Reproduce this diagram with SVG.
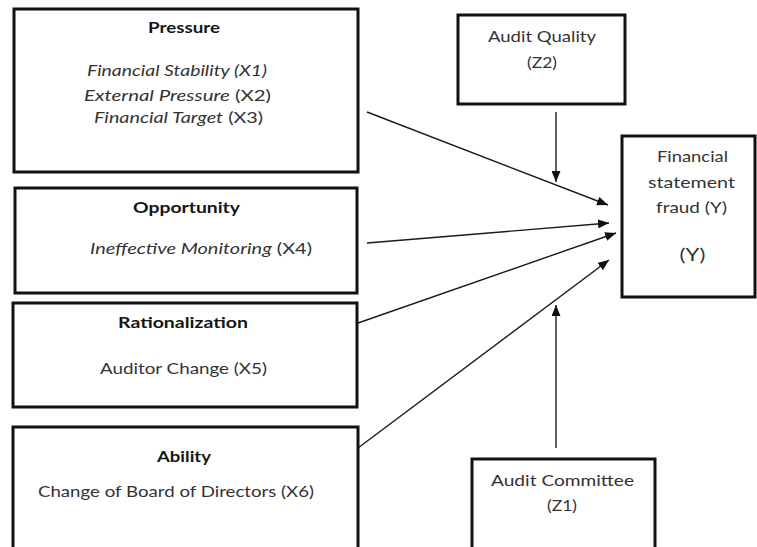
<svg xmlns="http://www.w3.org/2000/svg" width="757" height="547" viewBox="0 0 757 547">
  <style>
    .box { fill: #ffffff; stroke: #111111; stroke-width: 3; }
    .title { font-family: Lato, "Open Sans", "Liberation Sans", sans-serif; font-size: 16px; font-weight: bold; fill: #151515; text-anchor: middle; }
    .body { font-family: Lato, "Open Sans", "Liberation Sans", sans-serif; font-size: 16px; fill: #333333; text-anchor: middle; }
    .it { font-style: italic; }
    .link { fill: none; stroke: #1a1a1a; stroke-width: 1.4; marker-end: url(#head); }
  </style>
  <defs>
    <marker id="head" markerUnits="userSpaceOnUse" markerWidth="11" markerHeight="9" refX="11" refY="4.5" orient="auto">
      <path d="M0,0 L11,4.5 L0,9 z" fill="#111111"/>
    </marker>
  </defs>

  <rect width="757" height="547" fill="#ffffff"/>

  <!-- independent variable blocks -->
  <g id="pressure">
    <rect class="box" x="14" y="9" width="344" height="163"/>
    <text class="title" x="184" y="33" textLength="72" lengthAdjust="spacingAndGlyphs">Pressure</text>
    <text class="body it" x="177" y="76" textLength="180" lengthAdjust="spacingAndGlyphs">Financial Stability (X1)</text>
    <text class="body" x="177.5" y="101" textLength="187" lengthAdjust="spacingAndGlyphs"><tspan class="it">External Pressure</tspan>  (X2)</text>
    <text class="body" x="178.5" y="123" textLength="169" lengthAdjust="spacingAndGlyphs"><tspan class="it">Financial Target</tspan> (X3)</text>
  </g>

  <g id="opportunity">
    <rect class="box" x="15" y="188" width="342" height="105"/>
    <text class="title" x="186.5" y="213" textLength="107" lengthAdjust="spacingAndGlyphs">Opportunity</text>
    <text class="body" x="201" y="254" textLength="222" lengthAdjust="spacingAndGlyphs"><tspan class="it">Ineffective Monitoring</tspan> (X4)</text>
  </g>

  <g id="rationalization">
    <rect class="box" x="13" y="303" width="344" height="104"/>
    <text class="title" x="183" y="328" textLength="130" lengthAdjust="spacingAndGlyphs">Rationalization</text>
    <text class="body" x="183.5" y="374" textLength="167" lengthAdjust="spacingAndGlyphs">Auditor Change (X5)</text>
  </g>

  <g id="ability">
    <rect class="box" x="13" y="427" width="345" height="140"/>
    <text class="title" x="184" y="462" textLength="54" lengthAdjust="spacingAndGlyphs">Ability</text>
    <text class="body" x="176" y="497" textLength="276" lengthAdjust="spacingAndGlyphs">Change of Board of Directors (X6)</text>
  </g>

  <!-- moderating variables -->
  <g id="audit-quality">
    <rect class="box" x="458" y="15" width="167" height="89"/>
    <text class="body" x="542" y="42" textLength="108" lengthAdjust="spacingAndGlyphs">Audit Quality</text>
    <text class="body" x="542" y="68" textLength="30" lengthAdjust="spacingAndGlyphs">(Z2)</text>
  </g>

  <g id="audit-committee">
    <rect class="box" x="472" y="459" width="183" height="110"/>
    <text class="body" x="562.5" y="486" textLength="143" lengthAdjust="spacingAndGlyphs">Audit Committee</text>
    <text class="body" x="562" y="511" textLength="30" lengthAdjust="spacingAndGlyphs">(Z1)</text>
  </g>

  <!-- dependent variable -->
  <g id="fraud">
    <rect class="box" x="622" y="136" width="133" height="161"/>
    <text class="body" x="692.5" y="162" textLength="71" lengthAdjust="spacingAndGlyphs">Financial</text>
    <text class="body" x="691.5" y="188" textLength="87" lengthAdjust="spacingAndGlyphs">statement</text>
    <text class="body" x="691.5" y="213" textLength="71" lengthAdjust="spacingAndGlyphs">fraud (Y)</text>
    <text class="body" x="692.5" y="261" textLength="26" lengthAdjust="spacingAndGlyphs" style="font-size:17px">(Y)</text>
  </g>

  <!-- paths into the fraud block -->
  <g id="connectors">
    <line class="link" x1="367" y1="112" x2="608" y2="205"/>
    <line class="link" x1="367" y1="243" x2="609" y2="223"/>
    <line class="link" x1="358" y1="323" x2="616" y2="233"/>
    <line class="link" x1="358" y1="448" x2="609" y2="260"/>
    <line class="link" x1="556" y1="112" x2="556" y2="182"/>
    <line class="link" x1="556" y1="448" x2="556" y2="305"/>
  </g>
</svg>
